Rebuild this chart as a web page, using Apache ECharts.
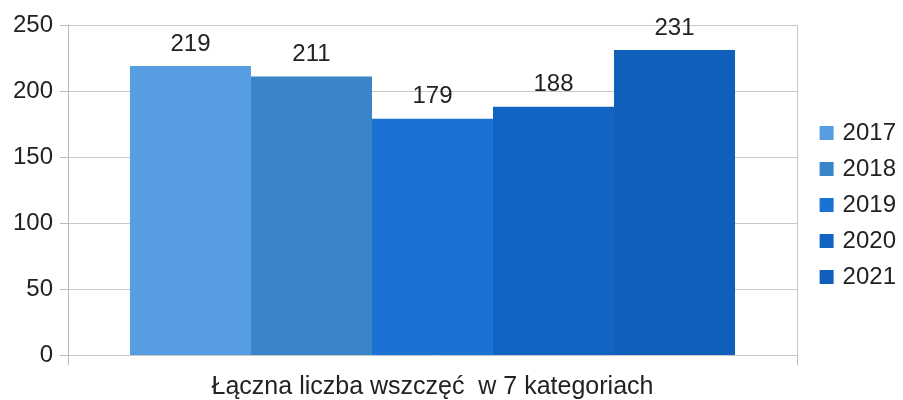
<!DOCTYPE html>
<html>
<head>
<meta charset="utf-8">
<script src="https://cdn.jsdelivr.net/npm/echarts@6/dist/echarts.min.js"></script>
<style>html,body{margin:0;padding:0;background:#fff}#c{width:903px;height:400px}</style>
</head>
<body>
<div id="c"></div>
<script>
const categories = ['Łączna liczba wszczęć  w 7 kategoriach'];
const years = ['2017', '2018', '2019', '2020', '2021'];
const values = [219, 211, 179, 188, 231];
const colors = ['#579de2', '#3a85c8', '#1a72d4', '#1264c2', '#0f5fbb'];
const yTicks = [0, 50, 100, 150, 200, 250];

const chart = echarts.init(document.getElementById('c'), null, {renderer: 'canvas'});
const font = 'Liberation Sans';
chart.setOption({
  animation: false,
  textStyle: {fontFamily: font},
  grid: {left: 68, right: 106, top: 25, bottom: 45, containLabel: false},
  legend: {
    orient: 'vertical', right: 2, top: 116,
    itemWidth: 14, itemHeight: 14, itemGap: 12, icon: 'rect',
    textStyle: {fontSize: 24, color: '#222', fontFamily: font, padding: [0, 0, 0, 4]},
    data: years
  },
  xAxis: {
    type: 'category', data: categories,
    axisLine: {show: false},
    axisTick: {show: true, length: 10, lineStyle: {color: '#bbb'}},
    splitLine: {show: true, lineStyle: {color: '#c8c8c8'}},
    axisLabel: {fontSize: 25, color: '#222', margin: 20, fontFamily: font}
  },
  yAxis: {
    type: 'value', min: yTicks[0], max: yTicks[yTicks.length - 1], interval: 50,
    axisLine: {show: true, lineStyle: {color: '#bbb'}},
    axisTick: {show: true, length: 8, lineStyle: {color: '#bbb'}},
    splitLine: {show: true, lineStyle: {color: '#c8c8c8'}},
    axisLabel: {fontSize: 24, color: '#222', margin: 15, fontFamily: font}
  },
  series: years.map((y, i) => ({
    name: y, type: 'bar', data: [values[i]],
    itemStyle: {color: colors[i]},
    barGap: '0%', barCategoryGap: '17%',
    label: {show: true, position: 'top', distance: 10, fontSize: 24, color: '#222', fontFamily: font}
  }))
});
</script>
</body>
</html>
